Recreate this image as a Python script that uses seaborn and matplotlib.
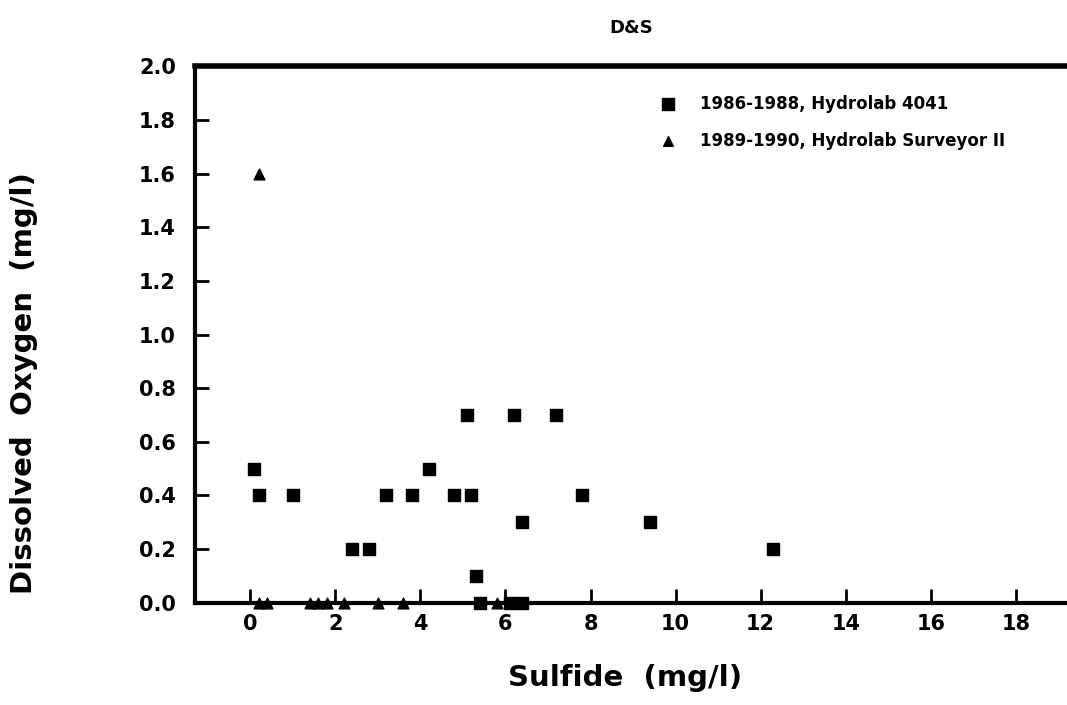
import matplotlib
matplotlib.use("Agg")
import matplotlib.pyplot as plt
import seaborn as sns
import pandas as pd

# 1986-1988 survey (Hydrolab 4041)
sq_sulfide = [0.1, 0.2, 1.0, 2.4, 2.8, 3.2, 3.8, 4.2, 4.8, 5.1, 5.2, 5.3,
              5.4, 6.1, 6.2, 6.4, 6.4, 7.2, 7.8, 9.4, 12.3]
sq_oxygen = [0.5, 0.4, 0.4, 0.2, 0.2, 0.4, 0.4, 0.5, 0.4, 0.7, 0.4, 0.1,
             0.0, 0.0, 0.7, 0.3, 0.0, 0.7, 0.4, 0.3, 0.2]

# 1989-1990 survey (Hydrolab Surveyor II)
tri_sulfide = [0.2, 0.2, 0.4, 1.4, 1.6, 1.8, 2.2, 3.0, 3.6, 5.8]
tri_oxygen = [1.6, 0.0, 0.0, 0.0, 0.0, 0.0, 0.0, 0.0, 0.0, 0.0]

label_sq = "1986-1988, Hydrolab 4041"
label_tri = "1989-1990, Hydrolab Surveyor II"

x_ticks = [0, 2, 4, 6, 8, 10, 12, 14, 16, 18]
y_ticks = [0.0, 0.2, 0.4, 0.6, 0.8, 1.0, 1.2, 1.4, 1.6, 1.8, 2.0]

sns.set_theme(style="ticks")
plt.rcParams["font.family"] = ["DejaVu Sans"]
plt.rcParams["font.weight"] = "bold"
plt.rcParams["text.color"] = "black"
plt.rcParams["axes.labelcolor"] = "black"
plt.rcParams["xtick.color"] = "black"
plt.rcParams["ytick.color"] = "black"

df_sq = pd.DataFrame({"Sulfide": sq_sulfide, "Oxygen": sq_oxygen})
df_tri = pd.DataFrame({"Sulfide": tri_sulfide, "Oxygen": tri_oxygen})

fig = plt.figure(figsize=(10.67, 7.05), dpi=100)
ax = fig.add_axes([0.183, 0.145, 0.817, 0.761])

sns.scatterplot(data=df_sq, x="Sulfide", y="Oxygen", ax=ax, marker="s",
                s=85, color="black", edgecolor="black", linewidth=1,
                label=label_sq, clip_on=False, zorder=3)
sns.scatterplot(data=df_tri, x="Sulfide", y="Oxygen", ax=ax, marker="^",
                s=60, color="black", edgecolor="black", linewidth=1,
                label=label_tri, clip_on=False, zorder=3)

ax.set_xlim(-1.29, 19.2)
ax.set_ylim(0, 2.0)
ax.set_xticks(x_ticks)
ax.set_yticks(y_ticks)
ax.set_yticklabels([f"{v:.1f}" for v in y_ticks])

ax.tick_params(axis="both", direction="in", length=10, width=2,
               labelsize=15, colors="black")
ax.tick_params(axis="y", pad=14)
ax.tick_params(axis="x", pad=8)
for lab in ax.get_xticklabels() + ax.get_yticklabels():
    lab.set_fontweight("bold")

for side in ["left", "bottom"]:
    ax.spines[side].set_linewidth(3)
    ax.spines[side].set_color("black")
ax.spines["top"].set_linewidth(4)
ax.spines["top"].set_color("black")
ax.spines["right"].set_visible(False)

ax.set_xlabel("Sulfide  (mg/l)", fontsize=21, fontweight="bold", color="black")
ax.set_ylabel("Dissolved  Oxygen  (mg/l)", fontsize=21, fontweight="bold",
              color="black")
ax.xaxis.set_label_coords(0.493, -0.115)
ax.yaxis.set_label_coords(-0.18, 0.41)

ax.set_title("D&S", fontsize=13, fontweight="bold", pad=24, color="black")

leg = ax.legend(loc="upper left", bbox_to_anchor=(0.506, 0.975), frameon=False,
                prop={"weight": "bold", "size": 12}, handletextpad=0.9,
                labelspacing=1.15, markerscale=0.9)
for txt in leg.get_texts():
    txt.set_color("black")

fig.savefig("out.png", dpi=100)
